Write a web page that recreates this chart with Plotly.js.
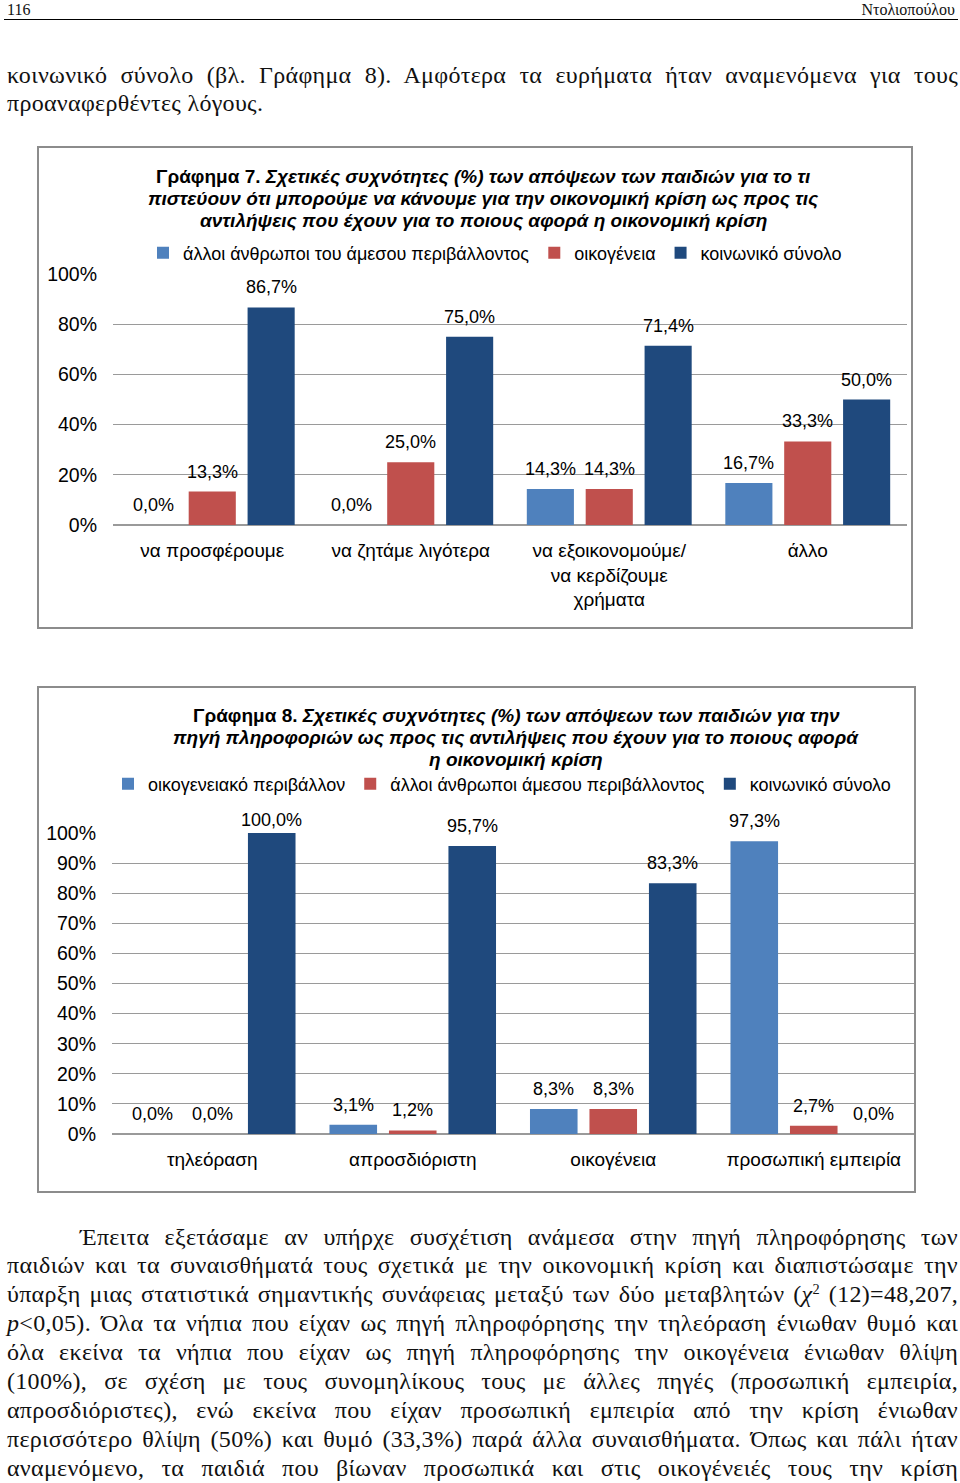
<!DOCTYPE html>
<html>
<head>
<meta charset="utf-8">
<script src="https://cdn.plot.ly/plotly-3.0.1.min.js"></script>
<style>
  html, body { margin:0; padding:0; background:#fff; }
  #page { position:relative; width:960px; height:1483px; overflow:hidden; background:#fff; }
  #plot { position:absolute; left:0; top:0; width:960px; height:1483px; z-index:0; }
  .txt { position:absolute; z-index:1; font-family:"Liberation Serif","DejaVu Serif",serif; color:#111; }
  .hdr { top:1px; font-size:16px; line-height:17px; }
  .para { left:7px; width:951px; font-size:24px; letter-spacing:0.3px; line-height:28.9px; }
  .j { text-align:justify; text-align-last:justify; white-space:normal; }
  .l { text-align:left; }
  sup { font-size:60%; line-height:0; vertical-align:0.55em; }
</style>
</head>
<body>
<div id="page">
  <div id="plot"></div>
  <div class="txt hdr" style="left:7px;">116</div>
  <div class="txt hdr" style="right:5px;">Ντολιοπούλου</div>
  <div class="txt" style="left:4px; top:19px; width:954px; height:0; border-top:1.5px solid #000;"></div>

  <div class="txt para" style="top:60.5px;">
    <div class="j">κοινωνικό σύνολο (βλ. Γράφημα 8). Αμφότερα τα ευρήματα ήταν αναμενόμενα για τους</div>
    <div class="l">προαναφερθέντες λόγους.</div>
  </div>

  <div class="txt para" style="top:1222.5px;">
    <div class="j" style="padding-left:73px;">Έπειτα εξετάσαμε αν υπήρχε συσχέτιση ανάμεσα στην πηγή πληροφόρησης των</div>
    <div class="j">παιδιών και τα συναισθήματά τους σχετικά με την οικονομική κρίση και διαπιστώσαμε την</div>
    <div class="j">ύπαρξη μιας στατιστικά σημαντικής συνάφειας μεταξύ των δύο μεταβλητών (<i>χ</i><sup>2</sup> (12)=48,207,</div>
    <div class="j"><i>p</i>&lt;0,05). Όλα τα νήπια που είχαν ως πηγή πληροφόρησης την τηλεόραση ένιωθαν θυμό και</div>
    <div class="j">όλα εκείνα τα νήπια που είχαν ως πηγή πληροφόρησης την οικογένεια ένιωθαν θλίψη</div>
    <div class="j">(100%), σε σχέση με τους συνομηλίκους τους με άλλες πηγές (προσωπική εμπειρία,</div>
    <div class="j">απροσδιόριστες), ενώ εκείνα που είχαν προσωπική εμπειρία από την κρίση ένιωθαν</div>
    <div class="j">περισσότερο θλίψη (50%) και θυμό (33,3%) παρά άλλα συναισθήματα. Όπως και πάλι ήταν</div>
    <div class="j">αναμενόμενο, τα παιδιά που βίωναν προσωπικά και στις οικογένειές τους την κρίση</div>
  </div>
</div>

<script>
// ---------- DATA ----------
// Chart 7
const cats7 = ["να προσφέρουμε", "να ζητάμε λιγότερα", "να εξοικονομούμε/<br>να κερδίζουμε<br>χρήματα", "άλλο"];
const names7 = ["άλλοι άνθρωποι του άμεσου περιβάλλοντος", "οικογένεια", "κοινωνικό σύνολο"];
const others7 = [0.0, 0.0, 14.3, 16.7];
const family7 = [13.3, 25.0, 14.3, 33.3];
const society7 = [86.7, 75.0, 71.4, 50.0];
const title7 = [
  "<b>Γράφημα 7.</b> <b><i>Σχετικές συχνότητες (%) των απόψεων των παιδιών για το τι</i></b>",
  "<b><i>πιστεύουν ότι μπορούμε να κάνουμε για την οικονομική κρίση ως προς τις</i></b>",
  "<b><i>αντιλήψεις που έχουν για το ποιους αφορά η οικονομική κρίση</i></b>"
];
const yticks7 = [0, 20, 40, 60, 80, 100];

// Chart 8
const cats8 = ["τηλεόραση", "απροσδιόριστη", "οικογένεια", "προσωπική εμπειρία"];
const names8 = ["οικογενειακό περιβάλλον", "άλλοι άνθρωποι άμεσου περιβάλλοντος", "κοινωνικό σύνολο"];
const familyEnv8 = [0.0, 3.1, 8.3, 97.3];
const others8 = [0.0, 1.2, 8.3, 2.7];
const society8 = [100.0, 95.7, 83.3, 0.0];
const title8 = [
  "<b>Γράφημα 8.</b> <b><i>Σχετικές συχνότητες (%) των απόψεων των παιδιών για την</i></b>",
  "<b><i>πηγή πληροφοριών ως προς τις αντιλήψεις που έχουν για το ποιους αφορά</i></b>",
  "<b><i>η οικονομική κρίση</i></b>"
];
const yticks8 = [0, 10, 20, 30, 40, 50, 60, 70, 80, 90, 100];

const colors = ["#4F81BD", "#C0504D", "#1F497D"];

// ---------- LAYOUT HELPERS ----------
const W = 960, H = 1483;
const px = x => x / W;
const py = y => 1 - y / H;
const FONT = "Liberation Sans, Arial, sans-serif";
const BARGAP = 0.11, BARGROUPGAP = 0.2;

const c1 = {x0:113, x1:907, y0:525, y1:274, titleX:483, titleY:176};
const c2 = {x0:112, x1:914, y0:1134, y1:833, titleX:516, titleY:715};

function fmt(v){ return v.toFixed(1).replace('.', ',') + '%'; }

const traces = [];
[others7, family7, society7].forEach((vals, i) => {
  traces.push({type:'bar', x:cats7, y:vals, name:names7[i], marker:{color:colors[i]},
    xaxis:'x', yaxis:'y', legend:'legend', textposition:'none', hoverinfo:'y'});
});
[familyEnv8, others8, society8].forEach((vals, i) => {
  traces.push({type:'bar', x:cats8, y:vals, name:names8[i], marker:{color:colors[i]},
    xaxis:'x2', yaxis:'y2', legend:'legend2', textposition:'none', hoverinfo:'y'});
});

const annotations = [];
function addLabels(cats, seriesList, c, xref, yref){
  const catW = (c.x1 - c.x0) / cats.length;
  const slot = catW * (1 - BARGAP) / seriesList.length;
  const pxPerUnit = (c.y0 - c.y1) / 100;
  seriesList.forEach((vals, i) => {
    vals.forEach((v, j) => {
      annotations.push({
        x: cats[j], y: v, xref: xref, yref: yref,
        text: fmt(v), showarrow: false,
        xshift: (i - (seriesList.length - 1) / 2) * slot,
        yshift: Math.min(20, (100 - v) * pxPerUnit + 13),
        yanchor: 'middle', xanchor: 'center',
        font: {family: FONT, size: 18, color: '#000'}
      });
    });
  });
}
addLabels(cats7, [others7, family7, society7], c1, 'x', 'y');
addLabels(cats8, [familyEnv8, others8, society8], c2, 'x2', 'y2');

function addTitle(lines, c){
  lines.forEach((t, k) => {
    annotations.push({text: t, xref:'paper', yref:'paper', x: px(c.titleX), y: py(c.titleY + 22 * k),
      xanchor:'center', yanchor:'middle', showarrow:false, align:'center',
      font:{family: FONT, size: 19, color:'#000'}});
  });
}
addTitle(title7, c1);
addTitle(title8, c2);

const gridC = '#9a9a9a';
function yax(c, ticks){
  return {domain:[py(c.y0), py(c.y1)], range:[0, 100], tickvals:ticks,
    ticktext: ticks.map(t => t + '%'), showgrid:true, gridcolor:gridC, gridwidth:1,
    zeroline:true, zerolinecolor:gridC, zerolinewidth:1.5, showline:false, ticks:'',
    ticklabelstandoff: 15, tickfont:{family:FONT, size:19.5, color:'#000'}, fixedrange:true};
}
function xax(c){
  return {domain:[px(c.x0), px(c.x1)], type:'category', showgrid:false, zeroline:false,
    showline:false, ticks:'', ticklabelstandoff: 12, tickfont:{family:FONT, size:19, color:'#000'}, fixedrange:true};
}

const layout = {
  width: W, height: H, autosize:false,
  margin: {l:0, r:0, t:0, b:0, pad:0},
  paper_bgcolor:'rgba(0,0,0,0)', plot_bgcolor:'rgba(0,0,0,0)',
  barmode:'group', bargap: BARGAP, bargroupgap: BARGROUPGAP,
  font:{family:FONT, color:'#000'},
  xaxis: Object.assign(xax(c1), {anchor:'y'}),
  yaxis: Object.assign(yax(c1, yticks7), {anchor:'x'}),
  xaxis2: Object.assign(xax(c2), {anchor:'y2'}),
  yaxis2: Object.assign(yax(c2, yticks8), {anchor:'x2'}),
  legend: {orientation:'h', x:px(495), xanchor:'center', y:py(253), yanchor:'middle',
    bgcolor:'rgba(0,0,0,0)', font:{family:FONT, size:18, color:'#000'}, traceorder:'normal',
    itemwidth:30, itemclick:false, itemdoubleclick:false},
  legend2: {orientation:'h', x:px(502), xanchor:'center', y:py(784), yanchor:'middle',
    bgcolor:'rgba(0,0,0,0)', font:{family:FONT, size:18, color:'#000'}, traceorder:'normal',
    itemwidth:30, itemclick:false, itemdoubleclick:false},
  showlegend:true,
  annotations: annotations,
  shapes: [
    {type:'rect', xref:'paper', yref:'paper', x0:px(38), x1:px(912), y0:py(628), y1:py(147),
      line:{color:'#8c8c8c', width:2}, fillcolor:'rgba(0,0,0,0)'},
    {type:'rect', xref:'paper', yref:'paper', x0:px(38), x1:px(915), y0:py(1192), y1:py(687),
      line:{color:'#8c8c8c', width:2}, fillcolor:'rgba(0,0,0,0)'}
  ]
};

Plotly.newPlot('plot', traces, layout, {displayModeBar:false, staticPlot:true});
</script>
</body>
</html>
